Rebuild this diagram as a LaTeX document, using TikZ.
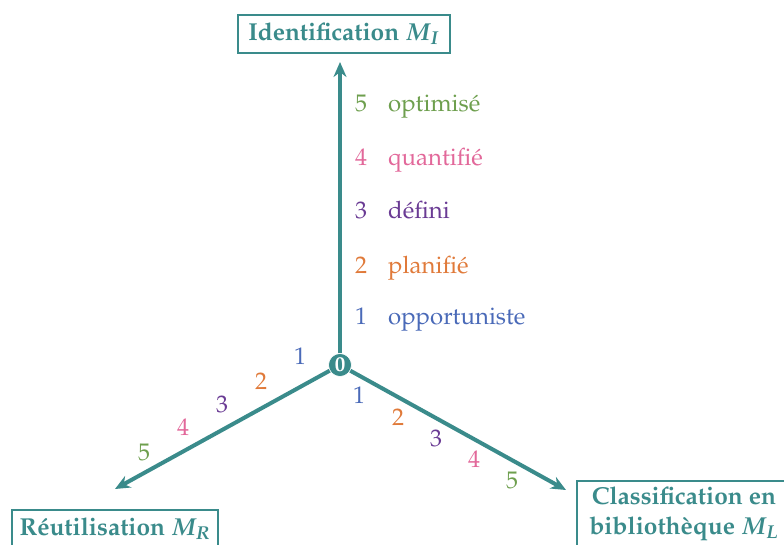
\documentclass[tikz,border=0pt]{standalone}
\usepackage[T1]{fontenc}
\usepackage{mathpazo}
\usetikzlibrary{arrows.meta}
\definecolor{teal}{HTML}{3A8B8B}
\definecolor{cfive}{HTML}{6E9F4E}
\definecolor{cfour}{HTML}{E2689A}
\definecolor{cthree}{HTML}{6A3B94}
\definecolor{ctwo}{HTML}{E07A3A}
\definecolor{cone}{HTML}{4A6AB8}
\tikzset{
  axisarrow/.style={draw=teal, line width=4pt, -{Stealth[length=15pt,width=13pt]}},
  titlebox/.style={draw=teal, line width=1.6pt, fill=white, text=teal, font=\fontsize{24.5}{30}\selectfont\bfseries, align=center, inner sep=0pt},
  lvl/.style={font=\fontsize{24}{28}\selectfont, anchor=base west, inner sep=0pt},
  num/.style={font=\fontsize{24}{28}\selectfont, inner sep=0pt},
}
\begin{document}
\begin{tikzpicture}[x=1pt,y=-1pt]
\useasboundingbox (0,0) rectangle (784,545);
\node[circle, fill=teal, draw=white, line width=0.6pt, minimum size=23pt, inner sep=0pt, text=white, font=\fontsize{21}{22}\selectfont\bfseries] (o) at (340,365) {0};
\coordinate (tu) at (340,62);
\coordinate (tl) at (115,489);
\coordinate (tr) at (566,490);
\draw[axisarrow] (o) -- (tu);
\draw[axisarrow] (o) -- (tl);
\draw[axisarrow] (o) -- (tr);
% boxes
\node[titlebox, minimum width=212pt, minimum height=38pt] (mi) at (344,34) {Identification {\boldmath$M_I$}};
\node[titlebox, minimum width=206pt, minimum height=38pt] (mr) at (115,529) {R\'eutilisation {\boldmath$M_R$}};
\node[titlebox, minimum width=214pt, minimum height=66pt] (ml) at (684,514) {Classification en\\biblioth\`eque {\boldmath$M_L$}};
% vertical labels
\node[lvl, text=cfive] (n5) at (355,112) {5};
\node[lvl, text=cfive] (l5) at (388,112) {optimis\'e};
\node[lvl, text=cfour] (n4) at (355,166) {4};
\node[lvl, text=cfour] (l4) at (388,166) {quantifi\'e};
\node[lvl, text=cthree] (n3) at (355,219) {3};
\node[lvl, text=cthree] (l3) at (388,219) {d\'efini};
\node[lvl, text=ctwo] (n2) at (355,273) {2};
\node[lvl, text=ctwo] (l2) at (388,273) {planifi\'e};
\node[lvl, text=cone] (n1) at (355,324) {1};
\node[lvl, text=cone] (l1) at (388,324) {opportuniste};
% left axis numbers
\node[num, text=cone] (a1) at (300,356) {1};
\node[num, text=ctwo] (a2) at (261,381) {2};
\node[num, text=cthree] (a3) at (222,404) {3};
\node[num, text=cfour] (a4) at (183,427) {4};
\node[num, text=cfive] (a5) at (144,452) {5};
% right axis numbers
\node[num, text=cone] (b1) at (359,395) {1};
\node[num, text=ctwo] (b2) at (398,417) {2};
\node[num, text=cthree] (b3) at (436,438) {3};
\node[num, text=cfour] (b4) at (474,459) {4};
\node[num, text=cfive] (b5) at (512,480) {5};
\end{tikzpicture}
\end{document}
